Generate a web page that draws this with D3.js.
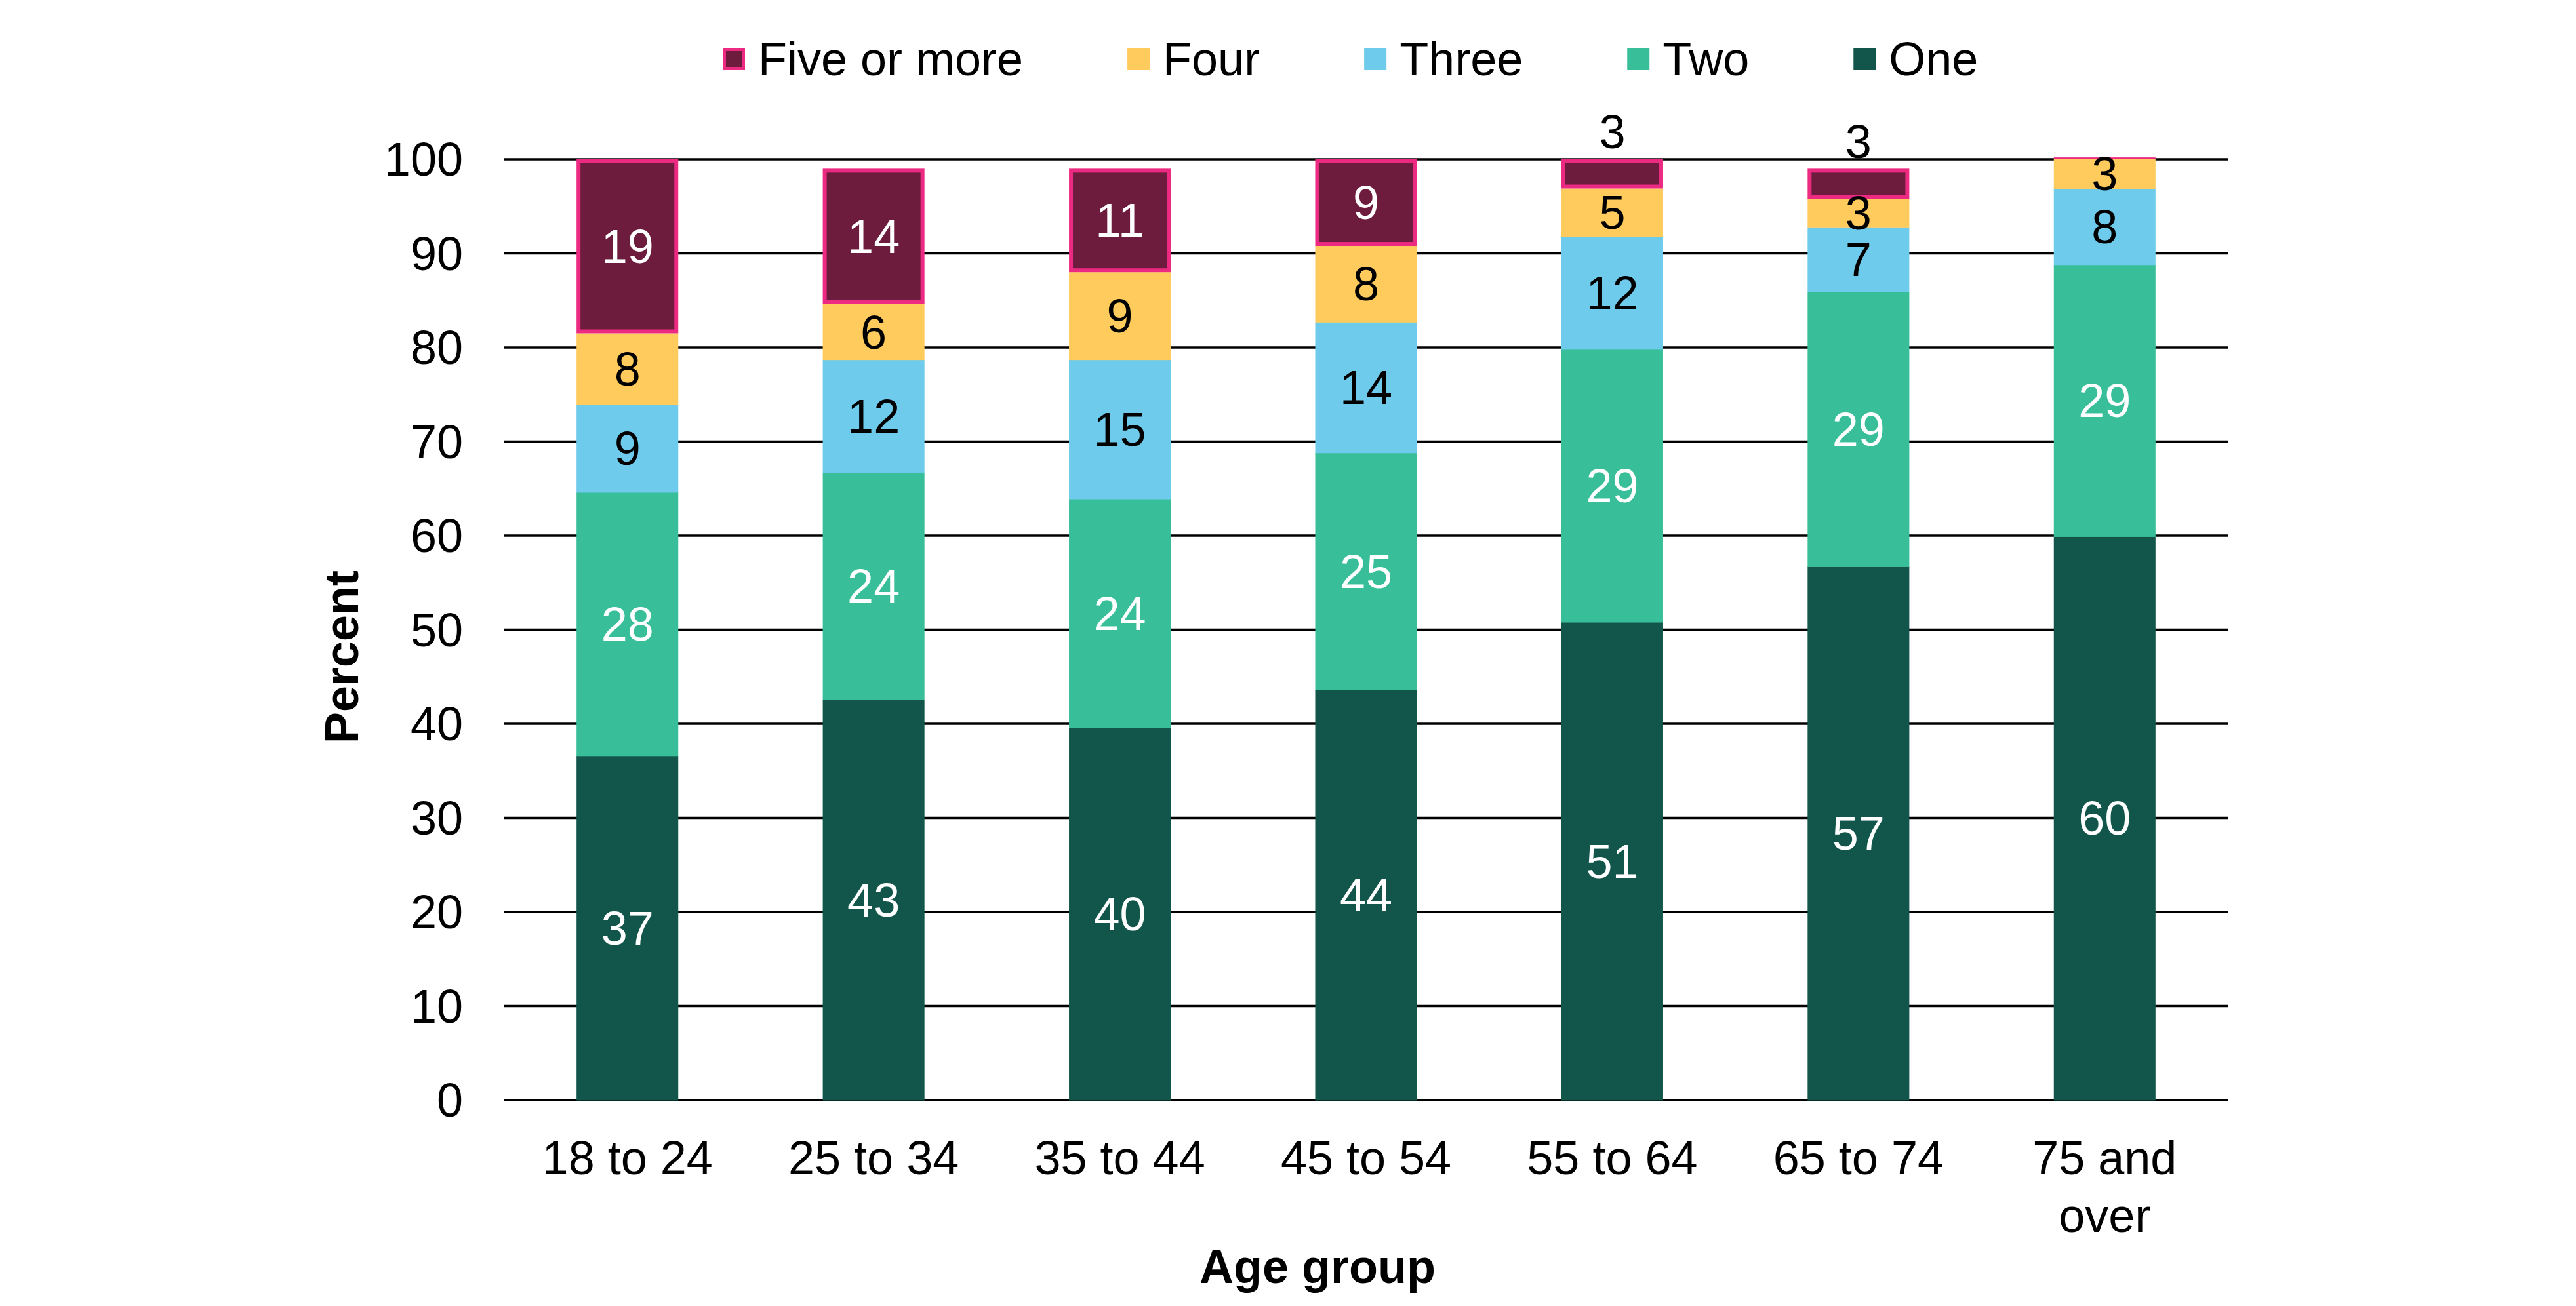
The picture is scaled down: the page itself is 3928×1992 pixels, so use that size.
<!DOCTYPE html>
<html lang="en">
<head>
  <meta charset="UTF-8">
  <title>Number by age group</title>
  <script src="https://d3js.org/d3.v7.min.js"></script>
  <style>
    body { margin: 0; background: #fff; }
    svg { display: block; font-family: "Liberation Sans", Arial, sans-serif; }
    .tick-label, .cat-label, .legend-label { font-size: 72px; fill: #000; }
    .axis-title { font-size: 72px; font-weight: bold; fill: #000; }
    .value-label { font-size: 72px; text-anchor: middle; }
  </style>
</head>
<body>
  <svg id="chart" width="3928" height="1992"></svg>

  <script>
    // Categories and series (percent)
    const ageGroups = ["18 to 24", "25 to 34", "35 to 44", "45 to 54", "55 to 64", "65 to 74", "75 and over"];
    const one   = [36.6, 42.6, 39.6, 43.6, 50.8, 56.7, 59.9];
    const two   = [28.0, 24.1, 24.3, 25.2, 29.0, 29.2, 28.9];
    const three = [9.3, 12.0, 14.8, 13.9, 12.0, 6.9, 8.1];
    const four  = [7.6, 5.9, 9.3, 8.1, 5.1, 3.0, 3.1];
    const five  = [18.5, 14.4, 11.0, 9.2, 3.1, 3.2, 0.2];
    const yTicks = [0, 10, 20, 30, 40, 50, 60, 70, 80, 90, 100];

    // Series in stacking order, bottom to top
    const series = [
      { key: "One", values: one, fill: "#12564b", text: "#fff" },
      { key: "Two", values: two, fill: "#38bf99", text: "#fff" },
      { key: "Three", values: three, fill: "#6ecbeb", text: "#000" },
      { key: "Four", values: four, fill: "#fecb5c", text: "#000" },
      { key: "Five or more", values: five, fill: "#6e1c3e", text: "#fff", border: "#ec2a82" }
    ];
    const legendOrder = ["Five or more", "Four", "Three", "Two", "One"];

    const svg = d3.select("#chart");
    const plotLeft = 769, plotRight = 3397, plotTop = 243, plotBottom = 1678;

    const x = d3.scaleBand()
      .domain(ageGroups)
      .range([plotLeft, plotRight])
      .paddingInner(0.587)
      .paddingOuter(0.2935);

    const y = d3.scaleLinear().domain([0, 100]).range([plotBottom, plotTop]);

    // Gridlines
    svg.append("g").selectAll("line")
      .data(yTicks)
      .enter().append("line")
      .attr("x1", plotLeft).attr("x2", plotRight)
      .attr("y1", d => y(d)).attr("y2", d => y(d))
      .attr("stroke", "#000")
      .attr("stroke-width", 3.5);

    // Y tick labels
    svg.append("g").selectAll("text")
      .data(yTicks)
      .enter().append("text")
      .attr("class", "tick-label")
      .attr("x", 706)
      .attr("y", d => y(d))
      .attr("dy", "0.35em")
      .attr("text-anchor", "end")
      .text(d => d);

    // Stack the data
    const rows = ageGroups.map((g, i) => {
      const r = { group: g };
      series.forEach(s => r[s.key] = s.values[i]);
      return r;
    });
    const stacked = d3.stack().keys(series.map(s => s.key))(rows);
    const bw = x.bandwidth();
    const sw = 6;

    stacked.forEach((layer, li) => {
      const s = series[li];
      const g = svg.append("g");
      layer.forEach(d => {
        const x0 = x(d.data.group);
        const y0 = y(d[1]), h = y(d[0]) - y(d[1]);
        if (s.border) {
          g.append("rect")
            .attr("x", x0).attr("y", y0)
            .attr("width", bw).attr("height", h)
            .attr("fill", s.border);
          if (h > 2 * sw) {
            g.append("rect")
              .attr("x", x0 + sw).attr("y", y0 + sw)
              .attr("width", bw - 2 * sw).attr("height", h - 2 * sw)
              .attr("fill", s.fill);
          }
        } else {
          g.append("rect")
            .attr("x", x0).attr("y", y0)
            .attr("width", bw).attr("height", h + 0.5)
            .attr("fill", s.fill);
        }
      });
    });

    // Value labels
    stacked.forEach((layer, li) => {
      const s = series[li];
      layer.forEach(d => {
        const v = Math.round(d[1] - d[0]);
        if (v === 0) return;
        const outside = s.border && v < 5;
        svg.append("text")
          .attr("class", "value-label")
          .attr("x", x(d.data.group) + bw / 2)
          .attr("y", outside ? y(d[1]) - 42 : (y(d[0]) + y(d[1])) / 2)
          .attr("dy", "0.35em")
          .attr("fill", outside ? "#000" : s.text)
          .text(v);
      });
    });

    // X category labels (wrap "75 and over")
    svg.append("g").selectAll("text")
      .data(ageGroups)
      .enter().append("text")
      .attr("class", "cat-label")
      .attr("text-anchor", "middle")
      .attr("y", 1791)
      .each(function (d) {
        const lines = d === "75 and over" ? ["75 and", "over"] : [d];
        const t = d3.select(this);
        lines.forEach((ln, i) => {
          t.append("tspan")
            .attr("x", x(d) + bw / 2)
            .attr("dy", i === 0 ? 0 : 88)
            .text(ln);
        });
      });

    // Axis titles
    svg.append("text")
      .attr("class", "axis-title")
      .attr("text-anchor", "middle")
      .attr("transform", "translate(521,1002) rotate(-90)")
      .attr("dy", "0.35em")
      .text("Percent");

    svg.append("text")
      .attr("class", "axis-title")
      .attr("text-anchor", "middle")
      .attr("x", 2009)
      .attr("y", 1957)
      .text("Age group");

    // Legend
    const legend = svg.append("g");
    let lx = 1102;
    const ly = 90, box = 34, gap = 20;
    legendOrder.forEach(k => {
      const s = series.find(e => e.key === k);
      if (s.border) {
        legend.append("rect").attr("x", lx).attr("y", ly - box / 2)
          .attr("width", box).attr("height", box).attr("fill", s.border);
        legend.append("rect").attr("x", lx + 5).attr("y", ly - box / 2 + 5)
          .attr("width", box - 10).attr("height", box - 10).attr("fill", s.fill);
      } else {
        legend.append("rect").attr("x", lx).attr("y", ly - box / 2)
          .attr("width", box).attr("height", box).attr("fill", s.fill);
      }
      const t = legend.append("text")
        .attr("class", "legend-label")
        .attr("x", lx + box + gap)
        .attr("y", ly)
        .attr("dy", "0.35em")
        .text(k);
      lx += box + gap + t.node().getComputedTextLength() + 159;
    });
  </script>
</body>
</html>
